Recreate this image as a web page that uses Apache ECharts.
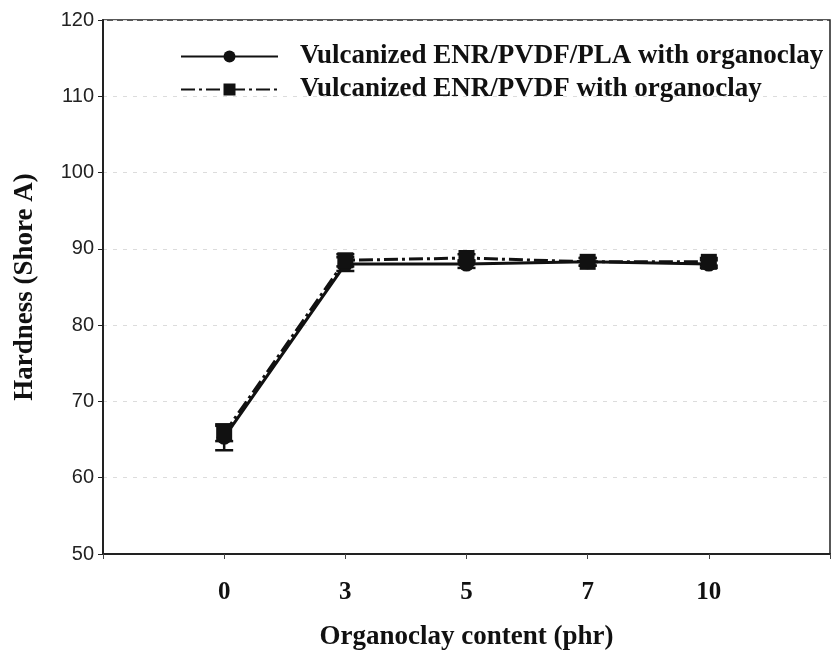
<!DOCTYPE html>
<html>
<head>
<meta charset="utf-8">
<script src="https://cdn.jsdelivr.net/npm/echarts@6/dist/echarts.min.js"></script>
<style>
  html, body { margin: 0; padding: 0; background: #fff; }
  #chart { width: 834px; height: 651px; }
</style>
</head>
<body>
<div id="chart"></div>
<script>
// organoclay content (phr), drawn at evenly spaced slots 1..5
var categories = ['0', '3', '5', '7', '10'];
var plaHardness = [65.3, 88.0, 88.0, 88.3, 88.0];
var plaError = [1.7, 0.9, 0.5, 0.5, 0.5];
var pvdfHardness = [65.8, 88.5, 88.8, 88.3, 88.3];
var pvdfError = [1.0, 0.8, 0.5, 0.5, 0.5];
var yTicks = [50, 60, 70, 80, 90, 100, 110, 120];

var serif = '"Liberation Serif", "DejaVu Serif", serif';

function points (values) {
  return values.map(function (v, i) { return [i + 1, v]; });
}
function errorData (values, errs) {
  return values.map(function (v, i) { return [i + 1, v - errs[i], v + errs[i]]; });
}
function renderError (params, api) {
  var x = api.value(0);
  var lo = api.coord([x, api.value(1)]);
  var hi = api.coord([x, api.value(2)]);
  var w = 9;
  var style = { stroke: '#111', lineWidth: 2.5 };
  return {
    type: 'group',
    children: [
      { type: 'line', shape: { x1: lo[0], y1: lo[1], x2: hi[0], y2: hi[1] }, style: style },
      { type: 'line', shape: { x1: lo[0] - w, y1: lo[1], x2: lo[0] + w, y2: lo[1] }, style: style },
      { type: 'line', shape: { x1: hi[0] - w, y1: hi[1], x2: hi[0] + w, y2: hi[1] }, style: style }
    ]
  };
}

var chart = echarts.init(document.getElementById('chart'));
var option = {
  animation: false,
  backgroundColor: '#fff',
  grid: {
    left: 103, right: 4, top: 20, bottom: 97,
    outerBoundsMode: 'none',
    show: true, borderColor: '#222', borderWidth: 1.5
  },
  legend: {
    orient: 'vertical',
    left: 175, top: 38,
    itemWidth: 97, itemHeight: 15, itemGap: 6,
    textStyle: {
      fontFamily: serif, fontWeight: 'bold', fontSize: 27, color: '#111',
      padding: [0, 0, 0, 17]
    },
    data: ['Vulcanized ENR/PVDF/PLA with organoclay', 'Vulcanized ENR/PVDF with organoclay']
  },
  xAxis: {
    type: 'value',
    min: 0, max: 6, interval: 1,
    name: 'Organoclay content (phr)',
    nameLocation: 'middle',
    nameGap: 70,
    nameTextStyle: { fontFamily: serif, fontWeight: 'bold', fontSize: 27, color: '#111' },
    axisLine: { lineStyle: { color: '#222', width: 2 } },
    axisTick: { show: true, length: 5, lineStyle: { color: '#444' } },
    axisLabel: {
      margin: 26,
      fontFamily: serif, fontWeight: 'bold', fontSize: 25, color: '#111',
      formatter: function (v) { return categories[v - 1] || ''; }
    },
    splitLine: { show: false }
  },
  yAxis: {
    type: 'value',
    min: 50, max: 120, interval: 10,
    name: 'Hardness (Shore A)',
    nameLocation: 'middle',
    nameGap: 64,
    nameTextStyle: { fontFamily: serif, fontWeight: 'bold', fontSize: 27, color: '#111' },
    axisLine: { show: true, lineStyle: { color: '#222', width: 2 } },
    axisTick: { show: true, length: 5, lineStyle: { color: '#222' } },
    axisLabel: {
      margin: 9,
      fontFamily: '"Liberation Sans", Arial, sans-serif', fontSize: 20, color: '#222',
      formatter: function (v) { return yTicks.indexOf(v) >= 0 ? String(v) : ''; }
    },
    splitLine: {
      show: true,
      lineStyle: { color: '#dcdcdc', type: [4, 6], width: 1 }
    }
  },
  series: [
    {
      name: 'Vulcanized ENR/PVDF/PLA with organoclay',
      type: 'line',
      data: points(plaHardness),
      symbol: 'circle',
      symbolSize: 15,
      itemStyle: { color: '#111' },
      lineStyle: { color: '#111', width: 3, type: 'solid' },
      z: 3
    },
    {
      name: 'Vulcanized ENR/PVDF with organoclay',
      type: 'line',
      data: points(pvdfHardness),
      symbol: 'rect',
      symbolSize: 16,
      itemStyle: { color: '#111' },
      lineStyle: { color: '#111', width: 3, type: [14, 4, 3, 4] },
      z: 4
    },
    {
      type: 'custom',
      renderItem: renderError,
      data: errorData(plaHardness, plaError),
      encode: { x: 0, y: [1, 2] },
      silent: true,
      z: 2
    },
    {
      type: 'custom',
      renderItem: renderError,
      data: errorData(pvdfHardness, pvdfError),
      encode: { x: 0, y: [1, 2] },
      silent: true,
      z: 2
    }
  ]
};
chart.setOption(option);
</script>
</body>
</html>
